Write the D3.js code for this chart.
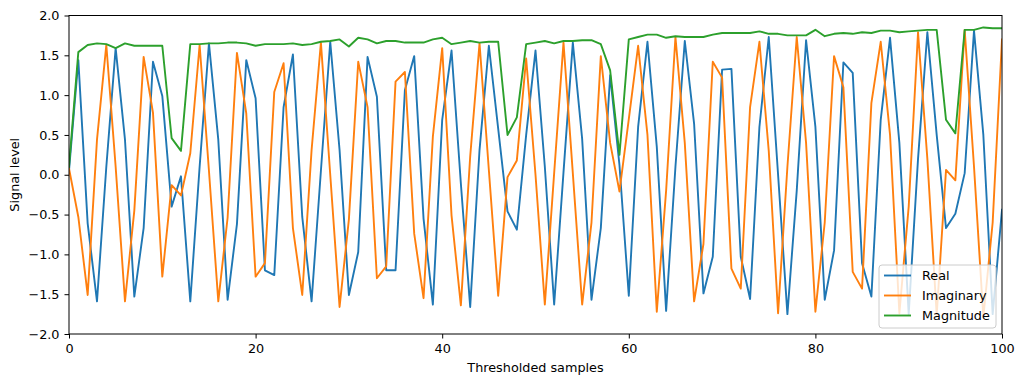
<!DOCTYPE html>
<html><head><meta charset="utf-8">
<script src="https://cdn.jsdelivr.net/npm/d3@7"></script>
<style>
html,body{margin:0;padding:0;background:#fff;}
svg{display:block;font-family:"DejaVu Sans",sans-serif;}
</style></head>
<body><svg id="chart" width="1024" height="384"></svg>
<script>
const samples = d3.range(0, 101);
const realValues = [0.05,1.44,-0.61,-1.59,0.10,1.59,0.44,-1.53,-0.67,1.42,
0.99,-0.40,-0.02,-1.59,0.10,1.65,0.44,-1.57,-0.62,1.44,
0.96,-1.20,-1.26,0.85,1.51,-0.53,-1.59,0.05,1.67,0.31,
-1.51,-0.97,1.48,0.98,-1.20,-1.20,1.06,1.49,-0.55,-1.63,
0.69,1.56,-0.11,-1.66,0.31,1.62,0.58,-0.46,-0.69,0.50,
1.56,0.10,-1.63,0.03,1.66,0.45,-1.57,-0.67,1.25,0.12,
-1.52,0.60,1.67,0.35,-1.71,0.10,1.68,0.64,-1.49,-1.03,
1.32,1.33,-1.03,-1.56,0.60,1.73,0.00,-1.75,-0.20,1.69,
0.60,-1.57,-0.95,1.41,1.28,-1.11,-1.53,0.69,1.72,0.40,
-1.75,0.20,1.79,0.50,-0.67,-0.49,0.02,1.81,0.50,-1.75,
-0.44];
const imagValues = [0.08,-0.53,-1.51,0.44,1.63,0.10,-1.59,-0.45,1.48,0.78,
-1.28,-0.13,-0.26,0.27,1.63,0.05,-1.59,-0.54,1.53,0.77,
-1.28,-1.11,1.04,1.40,-0.67,-1.51,0.31,1.66,0.00,-1.66,
-0.56,1.42,0.85,-1.30,-1.15,1.17,1.29,-0.74,-1.55,0.48,
1.59,-0.51,-1.64,0.23,1.65,0.06,-1.52,-0.03,0.18,1.46,
0.00,-1.63,0.02,1.66,0.02,-1.63,-0.60,1.49,0.40,-0.21,
0.70,1.62,0.50,-1.72,-0.20,1.73,0.40,-1.59,-0.87,1.42,
1.22,-1.18,-1.43,0.85,1.67,0.30,-1.74,0.10,1.73,0.40,
-1.72,-0.60,1.49,1.10,-1.22,-1.43,0.90,1.67,0.50,-1.74,
-0.40,1.79,0.20,-1.76,0.06,-0.07,1.82,0.10,-1.79,-0.60,
1.70];
const magValues = [0.10,1.54,1.63,1.65,1.64,1.59,1.65,1.62,1.62,1.62,
1.62,0.46,0.30,1.64,1.64,1.65,1.65,1.66,1.66,1.65,
1.62,1.64,1.64,1.64,1.65,1.63,1.64,1.67,1.68,1.70,
1.61,1.72,1.70,1.65,1.68,1.68,1.66,1.66,1.66,1.70,
1.72,1.64,1.66,1.68,1.66,1.67,1.67,0.50,0.72,1.64,
1.66,1.68,1.65,1.68,1.68,1.69,1.69,1.64,1.31,0.25,
1.70,1.73,1.76,1.76,1.72,1.74,1.73,1.73,1.73,1.76,
1.78,1.78,1.78,1.78,1.80,1.77,1.77,1.75,1.75,1.75,
1.82,1.74,1.77,1.78,1.77,1.79,1.78,1.81,1.81,1.79,
1.80,1.81,1.82,1.82,0.69,0.52,1.82,1.82,1.85,1.84,
1.84];
const seriesNames = ["Real","Imaginary","Magnitude"];
const seriesColors = ["#1f77b4","#ff7f0e","#2ca02c"];
const xTicks = [0,20,40,60,80,100];
const yTicks = [-2.0,-1.5,-1.0,-0.5,0.0,0.5,1.0,1.5,2.0];
const xLabel = "Thresholded samples";
const yLabel = "Signal level";

const FS = "12.8px";
const svg = d3.select("#chart");
const L = 69, R = 1002, T = 15.5, B = 334;
const x = d3.scaleLinear().domain([0,100]).range([L,R]);
const y = d3.scaleLinear().domain([-2,2]).range([B,T]);

svg.append("defs").append("clipPath").attr("id","clip").append("rect")
  .attr("x",L).attr("y",T).attr("width",R-L).attr("height",B-T);

const series = [realValues, imagValues, magValues];
const line = d3.line().x((d,i)=>x(samples[i])).y(d=>y(d));
const g = svg.append("g").attr("clip-path","url(#clip)");
series.forEach((vals,k)=>{
  g.append("path").datum(vals).attr("d",line)
   .attr("fill","none").attr("stroke",seriesColors[k])
   .attr("stroke-width",1.9).attr("stroke-linejoin","round").attr("stroke-linecap","square");
});

const fmt = d3.format(".1f");
const xAxis = d3.axisBottom(x).tickValues(xTicks).tickSize(4.5).tickPadding(5.5).tickFormat(d3.format("d"));
const yAxis = d3.axisLeft(y).tickValues(yTicks).tickSize(4.5).tickPadding(5).tickFormat(d=>fmt(d).replace("-","\u2212"));
const gx = svg.append("g").attr("transform",`translate(0,${B})`).call(xAxis);
const gy = svg.append("g").attr("transform",`translate(${L},0)`).call(yAxis);
[gx,gy].forEach(a=>{
  a.select(".domain").remove();
  a.selectAll(".tick line").attr("stroke","#000").attr("stroke-width",1);
  a.selectAll(".tick text").attr("fill","#000").style("font-size",FS).style("font-family","DejaVu Sans");
});
svg.append("rect").attr("x",L).attr("y",T).attr("width",R-L).attr("height",B-T)
  .attr("fill","none").attr("stroke","#000").attr("stroke-width",1);

svg.append("text").attr("x",(L+R)/2).attr("y",371.5).attr("text-anchor","middle")
  .style("font-size",FS).attr("fill","#000").text(xLabel);
svg.append("text").attr("transform",`translate(19,${(T+B)/2}) rotate(-90)`).attr("text-anchor","middle")
  .style("font-size",FS).attr("fill","#000").text(yLabel);

const lg = svg.append("g").attr("transform",`translate(879,265)`);
lg.append("rect").attr("x",0).attr("y",0).attr("width",117).attr("height",63).attr("rx",3)
  .attr("fill","#fff").attr("fill-opacity",0.8).attr("stroke","#ccc").attr("stroke-width",1);
seriesNames.forEach((n,k)=>{
  const yy = 10.5 + k*20;
  lg.append("line").attr("x1",5).attr("x2",32).attr("y1",yy).attr("y2",yy)
    .attr("stroke",seriesColors[k]).attr("stroke-width",1.9);
  lg.append("text").attr("x",43).attr("y",yy+4.5).style("font-size",FS).attr("fill","#000").text(n);
});
</script></body></html>
